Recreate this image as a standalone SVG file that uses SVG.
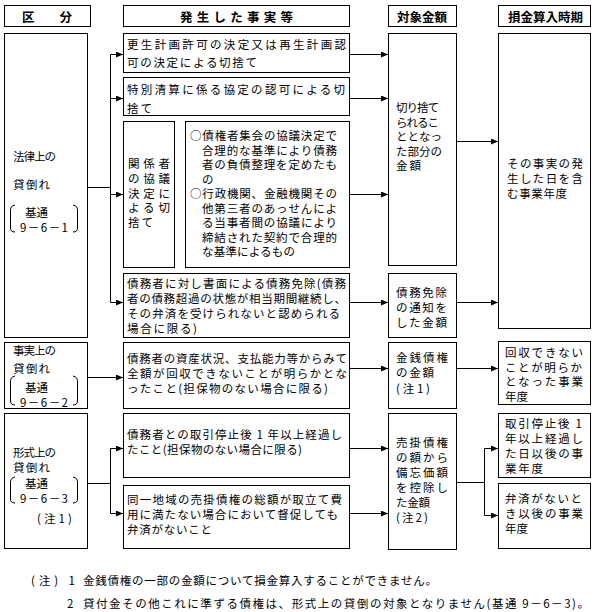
<svg xmlns="http://www.w3.org/2000/svg" width="595" height="612" viewBox="0 0 595 612">
<style>
.box{fill:#fff;stroke:#000;stroke-width:1}
text{font-family:"Noto Sans CJK JP","Noto Sans CJK SC",sans-serif;font-size:11.5px;fill:#000;dominant-baseline:central}
.h{font-weight:bold;font-size:12.5px}
.ln{fill:none;stroke:#000;stroke-width:1}
.ar{fill:none;stroke:#000;stroke-width:1;marker-end:url(#ah)}
.br{fill:none;stroke:#000;stroke-width:1}
</style>
<defs>
<marker id="ah" viewBox="0 0 7 6" refX="7" refY="3" markerWidth="7" markerHeight="6" markerUnits="userSpaceOnUse" orient="auto">
<path d="M0,0 L7,3 L0,6 z" fill="#000"/>
</marker>
</defs>
<rect width="595" height="612" fill="#fff"/>

<g id="headers">
<rect class="box" x="4.5" y="5.5" width="86" height="21"/>
<text class="h" x="22" y="16" textLength="50" lengthAdjust="spacing">区　　分</text>
<rect class="box" x="123.5" y="5.5" width="226" height="21"/>
<text class="h" x="180" y="16" textLength="113" lengthAdjust="spacing">発生した事実等</text>
<rect class="box" x="388.5" y="5.5" width="68" height="21"/>
<text class="h" x="397" y="16" textLength="50" lengthAdjust="spacing">対象金額</text>
<rect class="box" x="498.5" y="5.5" width="92" height="21"/>
<text class="h" x="508" y="16" textLength="75" lengthAdjust="spacing">損金算入時期</text>
</g>

<g id="legal">
<rect class="box" x="4.5" y="33.5" width="83" height="304"/>
<text><tspan x="13" y="156" textLength="43" lengthAdjust="spacing">法律上の</tspan><tspan x="13" y="184" textLength="37" lengthAdjust="spacing">貸倒れ</tspan><tspan x="25" y="212" textLength="23" lengthAdjust="spacing">基通</tspan><tspan x="20" y="227" textLength="48" lengthAdjust="spacing">9－6－1</tspan></text>
<path class="br" d="M15,205 Q10.5,206 10.5,210 L10.5,228 Q10.5,232 15,232"/>
<path class="br" d="M73,205 Q77.5,206 77.5,210 L77.5,228 Q77.5,232 73,232"/>
</g>

<g id="e1">
<rect class="box" x="123.5" y="33.5" width="226" height="39"/>
<text><tspan x="127" y="44" textLength="219" lengthAdjust="spacing">更生計画許可の決定又は再生計画認</tspan><tspan x="127" y="62" textLength="130" lengthAdjust="spacing">可の決定による切捨て</tspan></text>
</g>

<g id="e2">
<rect class="box" x="123.5" y="77.5" width="226" height="38"/>
<text><tspan x="127" y="89" textLength="218" lengthAdjust="spacing">特別清算に係る協定の認可による切</tspan><tspan x="127" y="108" textLength="25" lengthAdjust="spacing">捨て</tspan></text>
</g>

<g id="e3a">
<rect class="box" x="123.5" y="121.5" width="51" height="146"/>
<text><tspan x="128" y="163" textLength="42" lengthAdjust="spacing">関係者</tspan><tspan x="128" y="178" textLength="42" lengthAdjust="spacing">の協議</tspan><tspan x="128" y="192.5" textLength="42" lengthAdjust="spacing">決定に</tspan><tspan x="128" y="207" textLength="42" lengthAdjust="spacing">よる切</tspan><tspan x="128" y="222" textLength="25" lengthAdjust="spacing">捨て</tspan></text>
</g>

<g id="e3b">
<rect class="box" x="185.5" y="121.5" width="164" height="146"/>
<text><tspan x="190" y="135" textLength="147" lengthAdjust="spacing">○債権者集会の協議決定で</tspan><tspan x="202" y="149.5" textLength="135" lengthAdjust="spacing">合理的な基準により債務</tspan><tspan x="202" y="164" textLength="135" lengthAdjust="spacing">者の負債整理を定めたも</tspan><tspan x="202" y="178.5">の</tspan><tspan x="190" y="193" textLength="147" lengthAdjust="spacing">○行政機関、金融機関その</tspan><tspan x="202" y="207.5" textLength="135" lengthAdjust="spacing">他第三者のあっせんによ</tspan><tspan x="202" y="222" textLength="135" lengthAdjust="spacing">る当事者間の協議により</tspan><tspan x="202" y="236.5" textLength="135" lengthAdjust="spacing">締結された契約で合理的</tspan><tspan x="202" y="251" textLength="93" lengthAdjust="spacing">な基準によるもの</tspan></text>
</g>

<g id="e4">
<rect class="box" x="123.5" y="273.5" width="226" height="64"/>
<text><tspan x="127" y="283" textLength="219" lengthAdjust="spacing">債務者に対し書面による債務免除(債務</tspan><tspan x="127" y="298" textLength="219" lengthAdjust="spacing">者の債務超過の状態が相当期間継続し、</tspan><tspan x="127" y="313" textLength="213" lengthAdjust="spacing">その弁済を受けられないと認められる</tspan><tspan x="127" y="328" textLength="70" lengthAdjust="spacing">場合に限る)</tspan></text>
</g>

<g id="a1">
<rect class="box" x="388.5" y="33.5" width="68" height="232"/>
<text><tspan x="396" y="107" textLength="43" lengthAdjust="spacing">切り捨て</tspan><tspan x="396" y="121.5" textLength="43" lengthAdjust="spacing">られるこ</tspan><tspan x="396" y="136" textLength="46" lengthAdjust="spacing">ととなっ</tspan><tspan x="396" y="150.5" textLength="46" lengthAdjust="spacing">た部分の</tspan><tspan x="396" y="165" textLength="25" lengthAdjust="spacing">金額</tspan></text>
</g>

<g id="a2">
<rect class="box" x="388.5" y="273.5" width="68" height="64"/>
<text><tspan x="396" y="292" textLength="51" lengthAdjust="spacing">債務免除</tspan><tspan x="396" y="307" textLength="51" lengthAdjust="spacing">の通知を</tspan><tspan x="396" y="322" textLength="51" lengthAdjust="spacing">した金額</tspan></text>
</g>

<g id="t1">
<rect class="box" x="498.5" y="33.5" width="92" height="295"/>
<text><tspan x="507" y="163" textLength="76" lengthAdjust="spacing">その事実の発</tspan><tspan x="507" y="178" textLength="76" lengthAdjust="spacing">生した日を含</tspan><tspan x="507" y="193" textLength="60" lengthAdjust="spacing">む事業年度</tspan></text>
</g>

<g id="fact">
<rect class="box" x="4.5" y="342.5" width="83" height="66"/>
<text><tspan x="13" y="350" textLength="43" lengthAdjust="spacing">事実上の</tspan><tspan x="13" y="368" textLength="37" lengthAdjust="spacing">貸倒れ</tspan><tspan x="25" y="387" textLength="23" lengthAdjust="spacing">基通</tspan><tspan x="20" y="402" textLength="48" lengthAdjust="spacing">9－6－2</tspan></text>
<path class="br" d="M15,376 Q10.5,377 10.5,381 L10.5,401 Q10.5,405 15,405"/>
<path class="br" d="M73,376 Q77.5,377 77.5,381 L77.5,401 Q77.5,405 73,405"/>
</g>

<g id="e5">
<rect class="box" x="123.5" y="342.5" width="226" height="66"/>
<text><tspan x="127" y="358" textLength="220" lengthAdjust="spacing">債務者の資産状況、支払能力等からみて</tspan><tspan x="127" y="373" textLength="220" lengthAdjust="spacing">全額が回収できないことが明らかとな</tspan><tspan x="127" y="388" textLength="201" lengthAdjust="spacing">ったこと(担保物のない場合に限る)</tspan></text>
</g>

<g id="a3">
<rect class="box" x="388.5" y="342.5" width="68" height="66"/>
<text><tspan x="396" y="357" textLength="52" lengthAdjust="spacing">金銭債権</tspan><tspan x="396" y="372" textLength="38" lengthAdjust="spacing">の金額</tspan><tspan x="396" y="388" textLength="34" lengthAdjust="spacing">(注1)</tspan></text>
</g>

<g id="t2">
<rect class="box" x="498.5" y="341.5" width="92" height="63"/>
<text><tspan x="505" y="352" textLength="78" lengthAdjust="spacing">回収できない</tspan><tspan x="505" y="366.5" textLength="77" lengthAdjust="spacing">ことが明らか</tspan><tspan x="505" y="381" textLength="78" lengthAdjust="spacing">となった事業</tspan><tspan x="505" y="395.5" textLength="23" lengthAdjust="spacing">年度</tspan></text>
</g>

<g id="formal">
<rect class="box" x="4.5" y="413.5" width="83" height="135"/>
<text><tspan x="13" y="452" textLength="43" lengthAdjust="spacing">形式上の</tspan><tspan x="13" y="467" textLength="37" lengthAdjust="spacing">貸倒れ</tspan><tspan x="25" y="483" textLength="23" lengthAdjust="spacing">基通</tspan><tspan x="20" y="498" textLength="48" lengthAdjust="spacing">9－6－3</tspan><tspan x="37" y="518" textLength="35" lengthAdjust="spacing">(注1)</tspan></text>
<path class="br" d="M15,477 Q10.5,478 10.5,482 L10.5,499 Q10.5,503 15,503"/>
<path class="br" d="M73,477 Q77.5,478 77.5,482 L77.5,499 Q77.5,503 73,503"/>
</g>

<g id="e6">
<rect class="box" x="123.5" y="413.5" width="226" height="64"/>
<text><tspan x="127" y="434" textLength="215" lengthAdjust="spacing">債務者との取引停止後 1 年以上経過し</tspan><tspan x="127" y="449" textLength="175" lengthAdjust="spacing">たこと(担保物のない場合に限る)</tspan></text>
</g>

<g id="e7">
<rect class="box" x="123.5" y="485.5" width="226" height="63"/>
<text><tspan x="127" y="499" textLength="215" lengthAdjust="spacing">同一地域の売掛債権の総額が取立て費</tspan><tspan x="127" y="514" textLength="211" lengthAdjust="spacing">用に満たない場合において督促しても</tspan><tspan x="127" y="529" textLength="85" lengthAdjust="spacing">弁済がないこと</tspan></text>
</g>

<g id="a4">
<rect class="box" x="388.5" y="413.5" width="68" height="136"/>
<text><tspan x="396" y="442" textLength="52" lengthAdjust="spacing">売掛債権</tspan><tspan x="396" y="457" textLength="52" lengthAdjust="spacing">の額から</tspan><tspan x="396" y="472" textLength="52" lengthAdjust="spacing">備忘価額</tspan><tspan x="396" y="487" textLength="52" lengthAdjust="spacing">を控除し</tspan><tspan x="396" y="502" textLength="34" lengthAdjust="spacing">た金額</tspan><tspan x="396" y="517" textLength="32" lengthAdjust="spacing">(注2)</tspan></text>
</g>

<g id="t3">
<rect class="box" x="498.5" y="413.5" width="92" height="64"/>
<text><tspan x="505" y="423" textLength="77" lengthAdjust="spacing">取引停止後 1</tspan><tspan x="505" y="438" textLength="78" lengthAdjust="spacing">年以上経過し</tspan><tspan x="505" y="453" textLength="78" lengthAdjust="spacing">た日以後の事</tspan><tspan x="505" y="468" textLength="38" lengthAdjust="spacing">業年度</tspan></text>
</g>

<g id="t4">
<rect class="box" x="498.5" y="483.5" width="92" height="65"/>
<text><tspan x="505" y="498" textLength="77" lengthAdjust="spacing">弁済がないと</tspan><tspan x="505" y="513" textLength="78" lengthAdjust="spacing">き以後の事業</tspan><tspan x="505" y="528" textLength="23" lengthAdjust="spacing">年度</tspan></text>
</g>

<g id="connectors">
<path class="ln" d="M87.5,187.5 H110.5 M110.5,54.5 V302.5"/>
<path class="ar" d="M110.5,54.5 H123"/>
<path class="ar" d="M110.5,98.5 H123"/>
<path class="ar" d="M110.5,194.5 H123"/>
<path class="ar" d="M110.5,302.5 H123"/>
<path class="ar" d="M350,54.5 H388"/>
<path class="ar" d="M350,98.5 H388"/>
<path class="ar" d="M350,194.5 H388"/>
<path class="ar" d="M457,141.5 H498"/>
<path class="ar" d="M350,302.5 H388"/>
<path class="ar" d="M457,302.5 H498"/>
<path class="ar" d="M88,377.5 H123"/>
<path class="ar" d="M350,368.5 H388"/>
<path class="ar" d="M457,368.5 H498"/>
<path class="ln" d="M87.5,483.5 H110.5 M110.5,448.5 V513.5"/>
<path class="ar" d="M110.5,448.5 H123"/>
<path class="ar" d="M110.5,513.5 H123"/>
<path class="ar" d="M350,448.5 H388"/>
<path class="ar" d="M350,513.5 H388"/>
<path class="ln" d="M457,482.5 H484.5 M484.5,448.5 V515.5"/>
<path class="ar" d="M484.5,448.5 H498"/>
<path class="ar" d="M484.5,515.5 H498"/>
</g>

<g id="notes">
<text><tspan x="31" y="580" textLength="44" lengthAdjust="spacing">(注) 1</tspan><tspan x="83" y="580" textLength="354" lengthAdjust="spacing">金銭債権の一部の金額について損金算入することができません。</tspan><tspan x="67" y="603">2</tspan><tspan x="83" y="603" textLength="506" lengthAdjust="spacing">貸付金その他これに準ずる債権は、形式上の貸倒の対象となりません(基通 9－6－3)。</tspan></text>
</g>
</svg>
